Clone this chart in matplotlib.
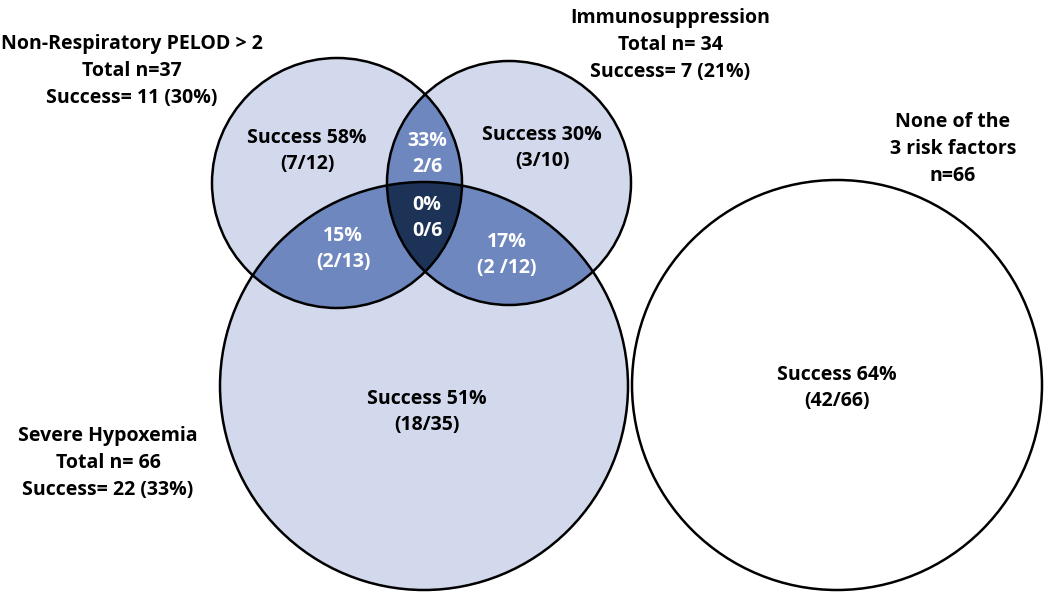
import numpy as np
import matplotlib
matplotlib.use("Agg")
import matplotlib.pyplot as plt
from matplotlib.patches import Circle, Polygon

plt.rcParams['font.family'] = ['Open Sans', 'DejaVu Sans']

# Group labels (outside the circles)
GROUP_LABELS = [
    "Non-Respiratory PELOD > 2\nTotal n=37\nSuccess= 11 (30%)",
    "Immunosuppression\nTotal n= 34\nSuccess= 7 (21%)",
    "Severe Hypoxemia\nTotal n= 66\nSuccess= 22 (33%)",
    "None of the\n3 risk factors\nn=66",
]

# Region labels: only PELOD, only immuno, PELOD+immuno, PELOD+hypox,
# all three, immuno+hypox, only hypox, none
REGION_TEXT = [
    "Success 58%\n(7/12)",
    "Success 30%\n(3/10)",
    "33%\n2/6",
    "15%\n(2/13)",
    "0%\n0/6",
    "17%\n(2 /12)",
    "Success 51%\n(18/35)",
    "Success 64%\n(42/66)",
]
REGION_WHITE = [False, False, True, True, True, True, False, False]

# geometry in pixel coords (y down)
CIRCLES = {
    "pelod": (337, 183, 125),
    "immuno": (509, 183, 122),
    "hypox": (424, 386, 204),
    "none": (837, 385, 205),
}
REGION_POS = [(307, 151), (542, 148), (427, 154), (343, 249), (427, 218),
              (507, 255), (427, 412), (837, 388)]
GROUP_POS = [(132, 71), (670, 45), (108, 463), (953, 149)]

LIGHT = "#D3D9ED"
MID = "#6F87BF"
DARK = "#1C3357"


def circle_pts(c, n=720):
    t = np.linspace(0, 2 * np.pi, n, endpoint=False)
    return np.column_stack([c[0] + c[2] * np.cos(t), c[1] + c[2] * np.sin(t)])


def inside(p, c):
    return (p[:, 0] - c[0]) ** 2 + (p[:, 1] - c[1]) ** 2 <= c[2] ** 2 + 1e-6


def intersection(circles):
    pts = []
    for i, c in enumerate(circles):
        p = circle_pts(c)
        mask = np.ones(len(p), bool)
        for j, d in enumerate(circles):
            if i != j:
                mask &= inside(p, d)
        pts.append(p[mask])
    pts = np.vstack(pts)
    ctr = pts.mean(axis=0)
    ang = np.arctan2(pts[:, 1] - ctr[1], pts[:, 0] - ctr[0])
    return pts[np.argsort(ang)]


fig = plt.figure(figsize=(10.5, 6), dpi=100)
ax = fig.add_axes([0, 0, 1, 1])
ax.set_xlim(0, 1050)
ax.set_ylim(600, 0)
ax.set_aspect("equal")
ax.axis("off")

P, I, H, N = (CIRCLES[k] for k in ["pelod", "immuno", "hypox", "none"])

for c in (P, I, H):
    ax.add_patch(Circle(c[:2], c[2], facecolor=LIGHT, edgecolor="none", zorder=1))
ax.add_patch(Circle(N[:2], N[2], facecolor="white", edgecolor="none", zorder=1))

for pair in ((P, I), (P, H), (I, H)):
    ax.add_patch(Polygon(intersection(pair), closed=True, facecolor=MID,
                         edgecolor="none", zorder=2))
ax.add_patch(Polygon(intersection((P, I, H)), closed=True, facecolor=DARK,
                     edgecolor="none", zorder=3))

for c in (P, I, H, N):
    ax.add_patch(Circle(c[:2], c[2], facecolor="none", edgecolor="black",
                        linewidth=1.8, zorder=4))

for txt, (x, y), white in zip(REGION_TEXT, REGION_POS, REGION_WHITE):
    ax.text(x, y, txt, ha="center", va="center", fontsize=14,
            fontweight="bold", color="white" if white else "black",
            linespacing=1.45, zorder=5)

for txt, (x, y) in zip(GROUP_LABELS, GROUP_POS):
    ax.text(x, y, txt, ha="center", va="center", fontsize=14,
            fontweight="bold", color="black", linespacing=1.45, zorder=5)

fig.savefig("out.png", dpi=100)
